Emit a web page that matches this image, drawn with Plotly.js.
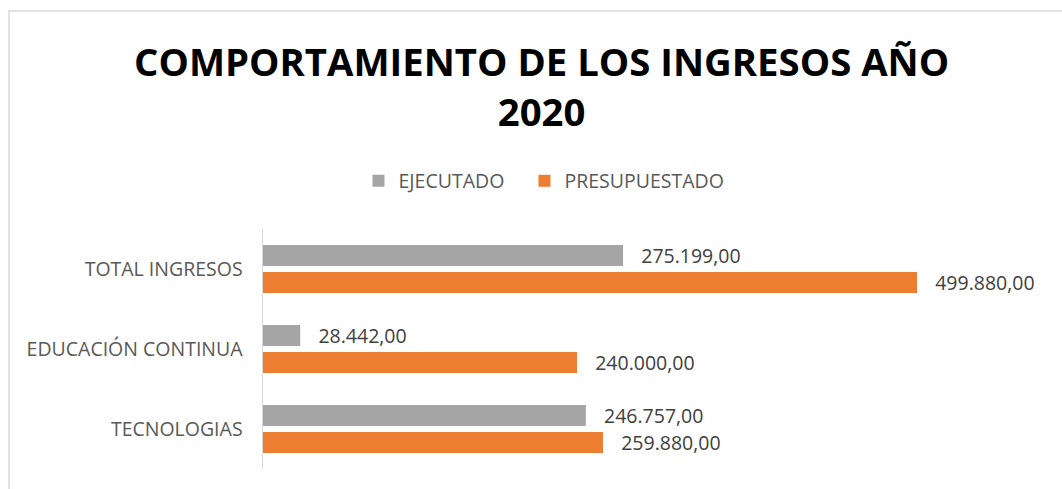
<!DOCTYPE html>
<html>
<head>
<meta charset="utf-8">
<script src="https://cdn.plot.ly/plotly-3.0.1.min.js"></script>
<style>
html,body{margin:0;padding:0;background:#fff;}
#chart{width:1062px;height:489px;}
</style>
</head>
<body>
<div id="chart"></div>
<script>
const categories = ['TOTAL INGRESOS', 'EDUCACIÓN CONTINUA', 'TECNOLOGIAS'];
const seriesNames = ['EJECUTADO', 'PRESUPUESTADO'];
const ejecutado = [275199, 28442, 246757];
const presupuestado = [499880, 240000, 259880];
const titleText = 'COMPORTAMIENTO DE LOS INGRESOS AÑO<br>2020';

const labelFont = {family: 'Open Sans, sans-serif', size: 19.5, color: '#404040'};
const pad = '\u00a0\u00a0\u00a0';

const traces = [
  {
    type: 'bar', orientation: 'h', name: seriesNames[0] + pad,
    y: categories, x: ejecutado,
    marker: {color: '#a5a5a5'},
    texttemplate: pad + '%{x:,.2f}', textposition: 'outside', cliponaxis: false,
    constraintext: 'none',
    textfont: labelFont, hoverinfo: 'x+y'
  },
  {
    type: 'bar', orientation: 'h', name: seriesNames[1],
    y: categories, x: presupuestado,
    marker: {color: '#ed7d31'},
    texttemplate: pad + '%{x:,.2f}', textposition: 'outside', cliponaxis: false,
    constraintext: 'none',
    textfont: labelFont, hoverinfo: 'x+y'
  }
];

const layout = {
  width: 1062, height: 489,
  separators: ',.',
  paper_bgcolor: '#ffffff', plot_bgcolor: '#ffffff',
  margin: {l: 263, r: 14, t: 229, b: 20},
  font: {family: 'Open Sans, sans-serif', color: '#595959'},
  title: {
    text: titleText,
    font: {family: 'Open Sans, sans-serif', size: 38.3, color: '#000000', weight: 'bold'},
    x: 0.51, xref: 'container', xanchor: 'center',
    y: 1 - 76/489, yref: 'container', yanchor: 'middle'
  },
  barmode: 'group', bargap: 0.325, bargroupgap: 0.22,
  showlegend: true,
  legend: {
    orientation: 'h', xref: 'container', x: 544/1062, xanchor: 'center',
    yref: 'container', y: 1 - 181/489, yanchor: 'middle',
    font: {family: 'Open Sans, sans-serif', size: 19.5, color: '#595959'},
    itemsizing: 'constant', traceorder: 'normal'
  },
  xaxis: {
    range: [0, 600000], showgrid: false, zeroline: false,
    showticklabels: false, showline: false, fixedrange: true
  },
  yaxis: {
    type: 'category', autorange: 'reversed',
    showline: true, linecolor: '#d9d9d9', linewidth: 1.5,
    ticks: '', showgrid: false, ticklabelstandoff: 15,
    tickfont: {family: 'Open Sans, sans-serif', size: 19.5, color: '#595959'},
    fixedrange: true
  },
  shapes: [{
    type: 'rect', xref: 'paper', yref: 'paper',
    x0: (9 - 263) / 785, x1: (1070 - 263) / 785,
    y0: (469 - 495) / 240, y1: (469 - 11) / 240,
    line: {color: '#d9d9d9', width: 1.5}, fillcolor: 'rgba(0,0,0,0)', layer: 'below'
  }]
};

Plotly.newPlot('chart', traces, layout, {displayModeBar: false, staticPlot: true});
</script>
</body>
</html>
